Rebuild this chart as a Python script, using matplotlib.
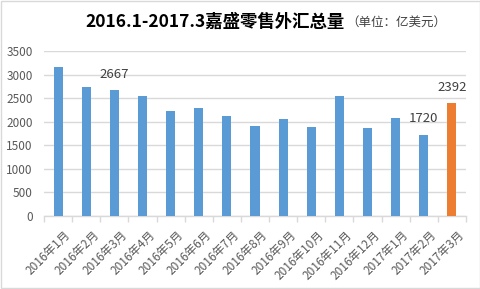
import matplotlib
matplotlib.use("Agg")
import matplotlib.pyplot as plt
import matplotlib.transforms as mtransforms
from matplotlib.patches import Rectangle

plt.rcParams['font.family'] = ['Noto Sans CJK SC', 'DejaVu Sans']

categories = ["2016年1月", "2016年2月", "2016年3月", "2016年4月", "2016年5月", "2016年6月",
              "2016年7月", "2016年8月", "2016年9月", "2016年10月", "2016年11月", "2016年12月",
              "2017年1月", "2017年2月", "2017年3月"]
values = [3170, 2740, 2667, 2550, 2235, 2295, 2125, 1910, 2060, 1890, 2550, 1870, 2080, 1720, 2392]
labeled = {2: "2667", 13: "1720", 14: "2392"}
yticks = [0, 500, 1000, 1500, 2000, 2500, 3000, 3500]

blue = "#5B9BD5"
orange = "#ED7D31"
colors = [blue] * (len(values) - 1) + [orange]

fig = plt.figure(figsize=(4.81, 2.89), dpi=100)
fig.patches.append(Rectangle((0.002, 0.003), 0.995, 0.994, transform=fig.transFigure,
                             fill=False, edgecolor="#D9D9D9", linewidth=1.0))
ax = fig.add_axes([44/481, 1-216/289, (466-44)/481, (216-51)/289])

x = list(range(len(values)))
ax.bar(x, values, width=0.32, color=colors, zorder=3)
ax.set_ylim(0, 3500)
ax.set_xlim(-0.5, len(values) - 0.5)
ax.set_yticks(yticks)
ax.set_yticklabels([str(t) for t in yticks], fontsize=8.5, color="#595959")
ax.yaxis.grid(True, color="#D9D9D9", linewidth=1.0, zorder=0)
ax.tick_params(axis='y', length=0, pad=8)
for s in ["top", "right", "left"]:
    ax.spines[s].set_visible(False)
ax.spines["bottom"].set_color("#D9D9D9")
ax.spines["bottom"].set_linewidth(1.0)

ax.set_xticks(x)
ax.set_xticklabels(categories, rotation=45, ha="right", va="top", rotation_mode="anchor",
                   fontsize=8.5, color="#595959")
ax.tick_params(axis='x', which='major', length=0, pad=9)
shift = mtransforms.ScaledTranslation(6/100, 0, fig.dpi_scale_trans)
for lbl in ax.get_xticklabels():
    lbl.set_transform(lbl.get_transform() + shift)
ax.set_xticks([i - 0.5 for i in range(len(values) + 1)], minor=True)
ax.tick_params(axis='x', which='minor', length=4, color="#D9D9D9", width=1)

for i, lab in labeled.items():
    ax.annotate(lab, (i, values[i]), xytext=(0, 7), textcoords="offset points",
                ha="center", va="bottom", fontsize=9.5, color="#404040")

fig.text(345/481, 1-22/289, "2016.1-2017.3嘉盛零售外汇总量", ha="right", va="center",
         fontsize=12.5, fontweight="bold", color="#000000")
fig.text(346/481, 1-22/289, "（单位：亿美元）", ha="left", va="center",
         fontsize=9, color="#404040")

fig.savefig("out.png", dpi=100)
